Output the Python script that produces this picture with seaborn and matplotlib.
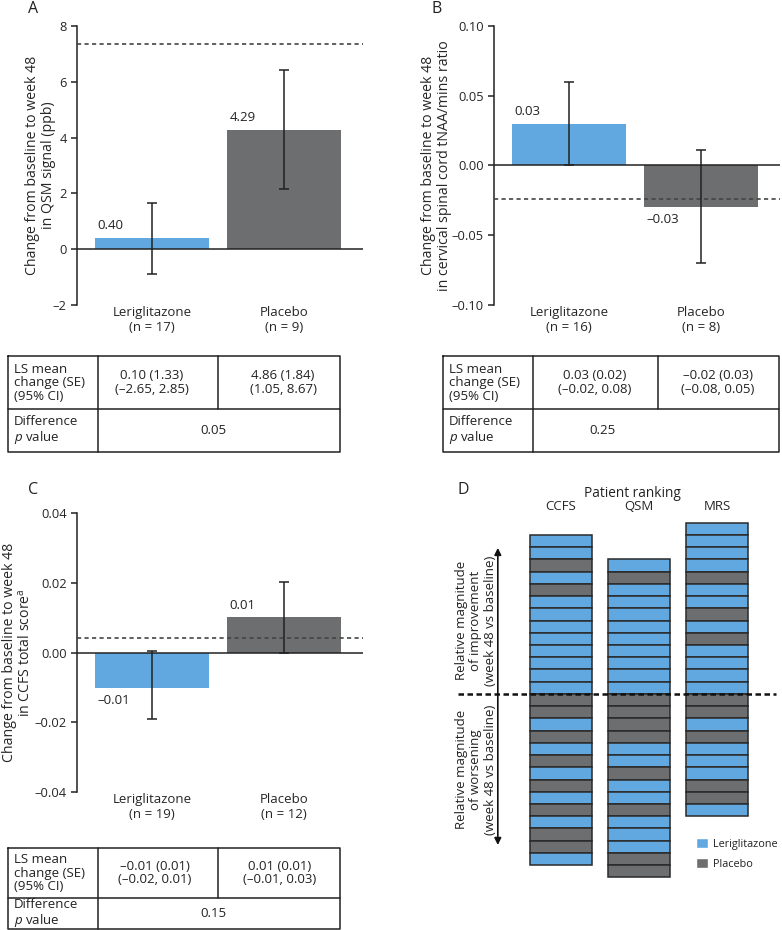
import numpy as np
import pandas as pd
import seaborn as sns
import matplotlib.pyplot as plt
from matplotlib.patches import Patch
from matplotlib.ticker import FuncFormatter

# panel A - QSM signal
groups_a = ["Leriglitazone\n(n = 17)", "Placebo\n(n = 9)"]
mean_a = [0.40, 4.29]
lo_a = [-0.88, 2.15]
hi_a = [1.67, 6.42]
ref_a = 7.35
yticks_a = [-2, 0, 2, 4, 6, 8]
table_a = ["0.10 (1.33)\n(–2.65, 2.85)", "4.86 (1.84)\n(1.05, 8.67)", "0.05"]

# panel B - cervical spinal cord tNAA/mins
groups_b = ["Leriglitazone\n(n = 16)", "Placebo\n(n = 8)"]
mean_b = [0.030, -0.030]
lo_b = [0.000, -0.070]
hi_b = [0.060, 0.011]
ref_b = -0.024
yticks_b = [-0.10, -0.05, 0.00, 0.05, 0.10]
table_b = ["0.03 (0.02)\n(–0.02, 0.08)", "–0.02 (0.03)\n(–0.08, 0.05)", "0.25"]

# panel C - CCFS total score
groups_c = ["Leriglitazone\n(n = 19)", "Placebo\n(n = 12)"]
mean_c = [-0.0103, 0.0101]
lo_c = [-0.019, 0.0]
hi_c = [0.0003, 0.0203]
ref_c = 0.0042
yticks_c = [-0.04, -0.02, 0.00, 0.02, 0.04]
table_c = ["–0.01 (0.01)\n(–0.02, 0.01)", "0.01 (0.01)\n(–0.01, 0.03)", "0.15"]

# panel D - patient ranking, top = most improved (L = leriglitazone, P = placebo)
measures = ["CCFS", "QSM", "MRS"]
rank_ccfs = list("LLPLPLLLLLLLL" + "PPLPLPLPLPLPPL")
rank_qsm = list("LPLLLLLLLLL" + "PPPPLLPLLPLLLPP")
rank_mrs = list("LLLLPLLPLPLLLL" + "PPLPLLLPPL")
n_improved = [13, 11, 14]

BLUE = "#62a8e0"
GRAY = "#6d6e70"
BAR_W = 0.864
W, H = 782, 930
FS = 9.5

sns.set_style("white")
plt.rcParams["font.family"] = ["Open Sans", "DejaVu Sans"]
plt.rcParams["mathtext.fontset"] = "custom"
plt.rcParams["mathtext.rm"] = "Open Sans"
plt.rcParams["mathtext.it"] = "Open Sans:italic"
plt.rcParams["text.color"] = "#222222"

fig = plt.figure(figsize=(W / 100, H / 100), dpi=100)


def box(x0, y0, x1, y1):
    return fig.add_axes([x0 / W, 1 - y1 / H, (x1 - x0) / W, (y1 - y0) / H])


def dash(s):
    return s.replace("-", "–")


def bar_panel(px, groups, means, lo, hi, ref, yticks, fmt, ylabel, lab_x):
    ax = box(*px)
    df = pd.DataFrame({"group": groups, "mean": means})
    sns.barplot(data=df, x="group", y="mean", hue="group", palette=[BLUE, GRAY],
                saturation=1, width=BAR_W, errorbar=None, legend=False, linewidth=0, ax=ax)
    means = np.array(means)
    err = [means - np.array(lo), np.array(hi) - means]
    ax.errorbar([0, 1], means, yerr=err, fmt="none", ecolor="#222222", elinewidth=1.1,
                capsize=3.5, capthick=1.1, zorder=5)
    ax.axhline(0, color="#222222", lw=1.1, zorder=4)
    ax.axhline(ref, color="#444444", lw=1.2, ls=(0, (2.5, 2)), zorder=4)
    ax.set_xlim(-0.568, 1.6)
    ax.set_ylim(yticks[0], yticks[-1])
    ax.set_yticks(yticks)
    ax.yaxis.set_major_formatter(FuncFormatter(lambda v, _: dash(fmt.format(v + 0.0))))
    for s in ["top", "right", "bottom"]:
        ax.spines[s].set_visible(False)
    ax.spines["left"].set_color("#222222")
    ax.spines["left"].set_linewidth(1.1)
    ax.tick_params(axis="y", direction="out", length=4, width=1.1, color="#222222",
                   labelsize=9.3, pad=3.5, left=True)
    ax.tick_params(axis="x", length=0, labelsize=FS, pad=1)
    ax.set_xlabel("")
    ax.set_ylabel(ylabel, fontsize=10.2, va="center", linespacing=1.08)
    ax.yaxis.set_label_coords(lab_x, 0.5)
    for i, v in enumerate(means):
        up = v > 0
        ax.annotate(dash(f"{v:.2f}"), (i - BAR_W / 2, v), xytext=(2, 4 if up else -4),
                    textcoords="offset points", ha="left", va="bottom" if up else "top",
                    fontsize=FS)
    return ax


def table(x0, x1, c1, c2, y0, ym, y1, cells, tx):
    ax = box(x0, y0, x1, y1)
    ax.set_xlim(x0, x1)
    ax.set_ylim(y1, y0)
    ax.axis("off")
    kw = dict(color="#222222", lw=1.1, clip_on=False)
    ax.plot([x0, x1, x1, x0, x0], [y0, y0, y1, y1, y0], **kw)
    ax.plot([x0, x1], [ym, ym], **kw)
    ax.plot([c1, c1], [y0, y1], **kw)
    ax.plot([c2, c2], [y0, ym], **kw)
    r1 = (y0 + ym) / 2
    r2 = (ym + y1) / 2
    ax.text(x0 + 6, r1, "LS mean\nchange (SE)\n(95% CI)", ha="left", va="center", fontsize=FS, linespacing=1.05)
    ax.text(x0 + 6, r2, "Difference\n$p$ value", ha="left", va="center", fontsize=FS, linespacing=1.05)
    ax.text(tx[0], r1, cells[0], ha="center", va="center", fontsize=FS, linespacing=1.05)
    ax.text(tx[1], r1, cells[1], ha="center", va="center", fontsize=FS, linespacing=1.05)
    ax.text(tx[2], r2, cells[2], ha="center", va="center", fontsize=FS)


# A
bar_panel((77, 26, 363, 305), groups_a, mean_a, lo_a, hi_a, ref_a, yticks_a, "{:.0f}",
          "Change from baseline to week 48\nin QSM signal (ppb)", -0.128)
table(8, 340, 98, 218, 356, 409, 452, table_a, (152, 283, 213))
fig.text(33 / W, 1 - 9 / H, "A", fontsize=11.5, ha="center", va="center")

# B
bar_panel((494, 26, 780, 305), groups_b, mean_b, lo_b, hi_b, ref_b, yticks_b, "{:.2f}",
          "Change from baseline to week 48\nin cervical spinal cord tNAA/mins ratio", -0.2)
table(443, 779, 533, 658, 356, 409, 452, table_b, (595, 718, 603))
fig.text(437 / W, 1 - 9 / H, "B", fontsize=11.5, ha="center", va="center")

# C
bar_panel((77, 513, 363, 792), groups_c, mean_c, lo_c, hi_c, ref_c, yticks_c, "{:.2f}",
          "Change from baseline to week 48\nin CCFS total score$^{\\mathrm{a}}$", -0.207)
table(8, 340, 98, 218, 848, 898, 929, table_c, (155, 280, 213))
fig.text(33 / W, 1 - 490 / H, "C", fontsize=11.5, ha="center", va="center")

# D
axd = box(455, 516, 780, 890)
rows = []
for j, (ranks, n) in enumerate(zip([rank_ccfs, rank_qsm, rank_mrs], n_improved)):
    for k, r in enumerate(ranks):
        rows.append((j, n - k - 1, r))
dfd = pd.DataFrame(rows, columns=["col", "bottom", "arm"])
axd.bar(dfd["col"], 1, bottom=dfd["bottom"], width=0.79,
        color=dfd["arm"].map({"L": BLUE, "P": GRAY}), edgecolor="#2a2a2a", linewidth=1.1)
axd.set_xlim(-1.359, 2.808)
axd.set_ylim(-16.03, 14.55)
axd.xaxis.tick_top()
axd.set_xticks(range(3))
axd.set_xticklabels(measures)
axd.set_yticks([])
axd.tick_params(axis="x", length=0, labelsize=9.5, pad=2)
for s in axd.spines.values():
    s.set_visible(False)
axd.axhline(0, xmin=0.01, xmax=0.988, color="#111111", lw=1.8, ls=(0, (2.2, 1.4)), zorder=5)
axd.annotate("", xy=(-0.81, 11.94), xytext=(-0.81, -12.35),
             arrowprops=dict(arrowstyle="<|-|>", color="#111111", lw=1.2, mutation_scale=10,
                             shrinkA=0, shrinkB=0))
axd.text(-1.09, 6.0, "Relative magnitude\nof improvement\n(week 48 vs baseline)", rotation=90,
         ha="center", va="center", fontsize=9.5, linespacing=1.15)
axd.text(-1.09, -6.2, "Relative magnitude\nof worsening\n(week 48 vs baseline)", rotation=90,
         ha="center", va="center", fontsize=9.5, linespacing=1.15)
axd.legend(handles=[Patch(facecolor=BLUE, label="Leriglitazone"), Patch(facecolor=GRAY, label="Placebo")],
           loc="upper left", bbox_to_anchor=(696 / W, 1 - 838 / H), bbox_transform=fig.transFigure,
           frameon=False, handlelength=1.1, handleheight=1.1, handletextpad=0.45, labelspacing=0.75,
           fontsize=7.8, borderaxespad=0, borderpad=0)
fig.text(632 / W, 1 - 493 / H, "Patient ranking", fontsize=9.8, ha="center", va="center")
fig.text(463 / W, 1 - 490 / H, "D", fontsize=11.5, ha="center", va="center")

fig.savefig("out.png", dpi=100)
